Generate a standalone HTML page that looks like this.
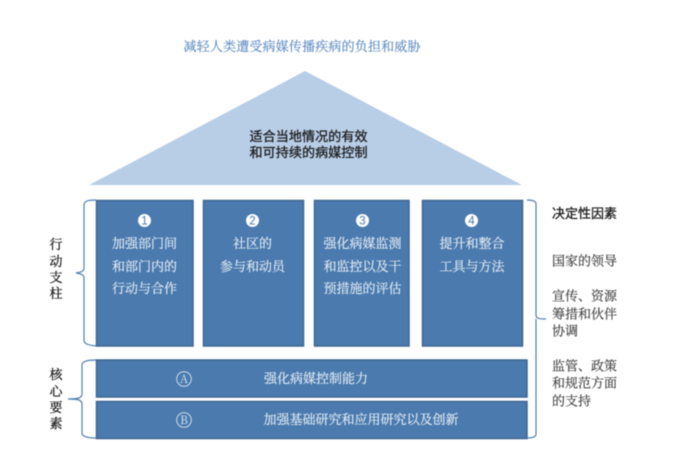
<!DOCTYPE html>
<html>
<head>
<meta charset="utf-8">
<style>
html,body{margin:0;padding:0;background:#fff;width:676px;height:450px;overflow:hidden}
svg{display:block;filter:blur(0.4px)}
.s,.w,.k,.b{font-family:"Noto Serif CJK SC","Liberation Serif",serif}
.g{font-family:"Liberation Sans","Noto Sans CJK SC",sans-serif}
.w{fill:#e6edf5;font-size:13px;text-anchor:middle;stroke:#e6edf5;stroke-width:.15px}
.k{fill:#3c3c3c;font-size:13px;stroke:#3c3c3c;stroke-width:.15px}
.b{fill:#1a1a1a;font-size:13px;text-anchor:middle;stroke:#1a1a1a;stroke-width:.3px}
.h{stroke:#1a1a1a;stroke-width:.3px}
rect.box{fill:#4a7aae;stroke:#3f6690;stroke-width:1.5}
path.br{fill:none;stroke:#4f7fb0;stroke-width:1.2}
</style>
</head>
<body>
<svg width="676" height="450" viewBox="0 0 676 450" xmlns="http://www.w3.org/2000/svg">
<rect width="676" height="450" fill="#fff"/>
<text class="s" x="302" y="51" text-anchor="middle" font-size="13" fill="#5f8cc0" stroke="#5f8cc0" stroke-width=".15" textLength="237">减轻人类遭受病媒传播疾病的负担和威胁</text>
<polygon points="305,71 522,185 89,185" fill="#b8cde6"/>
<text class="g h" x="308.500" y="141" text-anchor="middle" font-size="13" fill="#1c1c1c" textLength="118">适合当地情况的有效</text>
<text class="g h" x="308.500" y="157" text-anchor="middle" font-size="13" fill="#1c1c1c" textLength="118">和可持续的病媒控制</text>

<rect class="box" x="96.500" y="200.500" width="96.500" height="145.500"/>
<rect class="box" x="203.500" y="200.500" width="100" height="145.500"/>
<rect class="box" x="314.500" y="200.500" width="94.500" height="145.500"/>
<rect class="box" x="422.500" y="200.500" width="100" height="145.500"/>
<rect class="box" x="96.500" y="360" width="430.500" height="37"/>
<rect class="box" x="96.500" y="401.500" width="430.500" height="37"/>

<g fill="#fff"><circle cx="144.500" cy="220.500" r="6.500"/><circle cx="252.500" cy="220.500" r="6.500"/><circle cx="362.500" cy="220.500" r="6.500"/><circle cx="471.500" cy="220.500" r="6.500"/></g>
<g class="g" font-size="11.500" text-anchor="middle" fill="#4a7aae">
<text x="144.500" y="224.700">1</text><text x="252.500" y="224.700">2</text><text x="362.500" y="224.700">3</text><text x="471.500" y="224.700">4</text>
</g>

<text class="w" x="144.500" y="248">加强部门间</text>
<text class="w" x="144.500" y="271">和部门内的</text>
<text class="w" x="144.500" y="293">行动与合作</text>
<text class="w" x="252.500" y="248">社区的</text>
<text class="w" x="252.500" y="271">参与和动员</text>
<text class="w" x="362.500" y="248">强化病媒监测</text>
<text class="w" x="362.500" y="271">和监控以及干</text>
<text class="w" x="362.500" y="293">预措施的评估</text>
<text class="w" x="472" y="248">提升和整合</text>
<text class="w" x="472" y="271">工具与方法</text>
<text class="w" x="316" y="383">强化病媒控制能力</text>
<text class="w" x="361" y="424">加强基础研究和应用研究以及创新</text>

<g fill="none" stroke="#dfe8f2" stroke-width="0.9"><circle cx="184" cy="379" r="7.300"/><circle cx="184" cy="420" r="7.300"/></g>
<g class="s" font-size="11.500" fill="#dfe8f2" text-anchor="middle"><text x="184" y="383">A</text><text x="184" y="424">B</text></g>

<path class="br" d="M96,200 C88,200 84,201 84,205 V268 C84,271 82,272 76,273 C82,274 84,275 84,278 V340 C84,344 88,345 96,346"/>
<path class="br" d="M96,360 C88,360 82,361 82,365 V394 C82,398 78,399 68,399 C78,399 82,400 82,404 V433 C82,437 88,438 96,438"/>
<path class="br" d="M527,200 C533,200 536,201 536,204 V315 C536,318 538,319 546,319 M536,319 V434 C536,437 533,438 527,438"/>

<text class="b" x="56" y="249">行</text>
<text class="b" x="56" y="266">动</text>
<text class="b" x="56" y="282">支</text>
<text class="b" x="56" y="298">柱</text>
<text class="b" x="56" y="379">核</text>
<text class="b" x="56" y="396">心</text>
<text class="b" x="56" y="412">要</text>
<text class="b" x="56" y="428">素</text>

<text class="g h" x="552" y="218" font-size="13" fill="#1c1c1c">决定性因素</text>
<text class="k" x="552" y="265.500">国家的领导</text>
<text class="k" x="552" y="300.500">宣传、资源</text>
<text class="k" x="552" y="318.500">筹措和伙伴</text>
<text class="k" x="552" y="335.500">协调</text>
<text class="k" x="552" y="370.500">监管、政策</text>
<text class="k" x="552" y="387.500">和规范方面</text>
<text class="k" x="552" y="405.500">的支持</text>
</svg>
</body>
</html>
